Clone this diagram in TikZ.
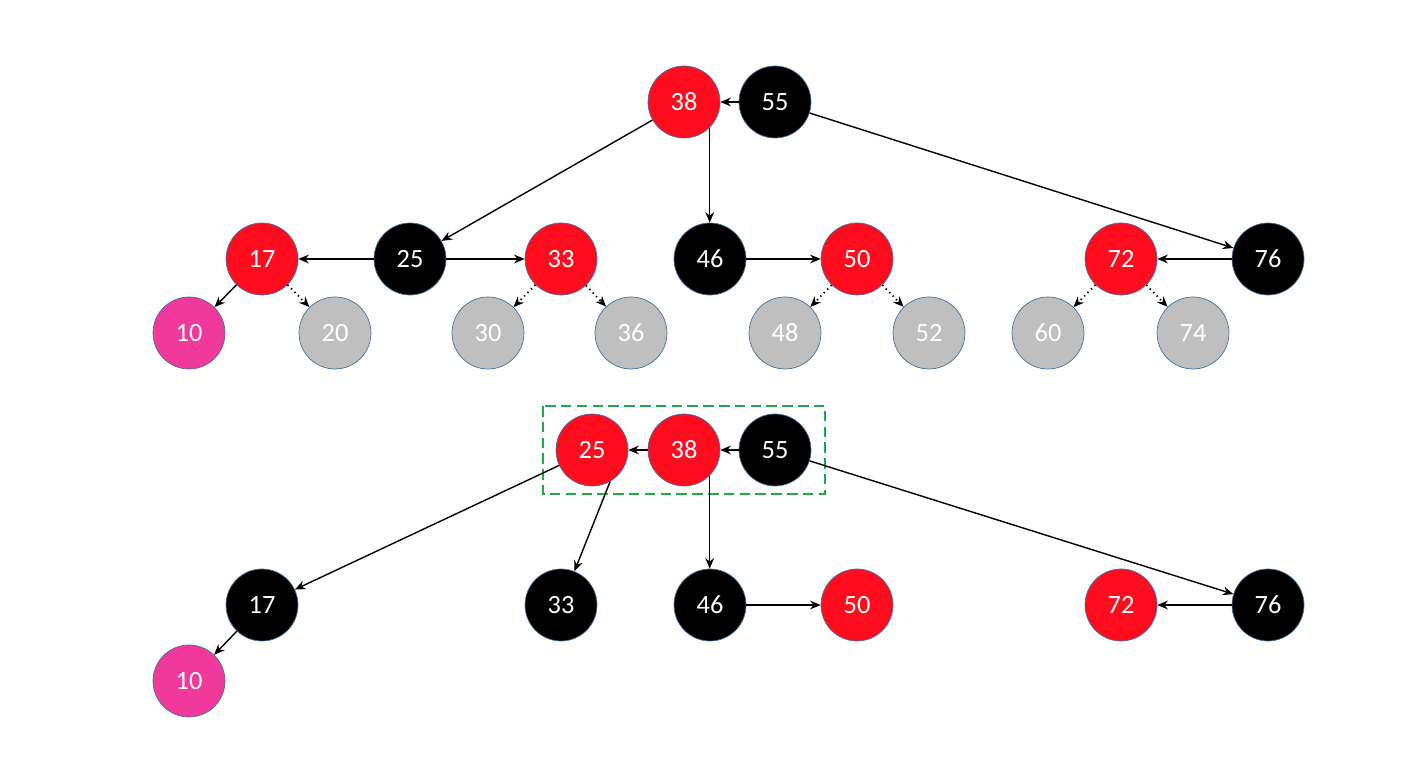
\documentclass[tikz,border=0pt]{standalone}
\usepackage{fontspec}
\setmainfont{Carlito}
\usetikzlibrary{arrows.meta}
\definecolor{rbred}{HTML}{FF0D1F}
\definecolor{rbpink}{HTML}{F0399A}
\definecolor{rbgray}{HTML}{BFBFBF}
\definecolor{rbedge}{HTML}{41719C}
\definecolor{rbgreen}{HTML}{22A845}
\tikzset{
 x=0.02cm,y=-0.02cm,
 nd/.style={circle,minimum size=1.44cm,inner sep=0pt,draw=rbedge,line width=0.4pt,text=white,font=\fontsize{15}{15}\selectfont},
 rd/.style={nd,fill=rbred},
 bk/.style={nd,fill=black},
 pk/.style={nd,fill=rbpink},
 gy/.style={nd,fill=rbgray},
 ar/.style={-{Stealth[length=6pt,width=5pt]},line width=0.8pt},
 dar/.style={ar,dotted,line width=1pt},
}
\begin{document}
\begin{tikzpicture}
\useasboundingbox (0,0) rectangle (1428,773);
% top tree
\node[rd] (a38) at (684,102) {38};
\node[bk] (a55) at (775,102) {55};
\node[rd] (a17) at (262,259) {17};
\node[bk] (a25) at (410,259) {25};
\node[rd] (a33) at (561,259) {33};
\node[bk] (a46) at (710,259) {46};
\node[rd] (a50) at (857,259) {50};
\node[rd] (a72) at (1121,259) {72};
\node[bk] (a76) at (1268,259) {76};
\node[pk] (a10) at (189,333) {10};
\node[gy] (a20) at (335,333) {20};
\node[gy] (a30) at (488,333) {30};
\node[gy] (a36) at (631,333) {36};
\node[gy] (a48) at (785,333) {48};
\node[gy] (a52) at (929,333) {52};
\node[gy] (a60) at (1048,333) {60};
\node[gy] (a74) at (1193,333) {74};
\draw[ar] (a55) -- (a38);
\draw[ar] (a38) -- (a25);
\draw[ar] (a38.-45) -- (a38.-45 |- a46.north);
\draw[ar] (a55) -- (a76);
\draw[ar] (a25) -- (a17);
\draw[ar] (a25) -- (a33);
\draw[ar] (a46) -- (a50);
\draw[ar] (a76) -- (a72);
\draw[ar] (a17) -- (a10);
\draw[dar] (a17) -- (a20);
\draw[dar] (a33) -- (a30);
\draw[dar] (a33) -- (a36);
\draw[dar] (a50) -- (a48);
\draw[dar] (a50) -- (a52);
\draw[dar] (a72) -- (a60);
\draw[dar] (a72) -- (a74);
% bottom tree
\draw[rbgreen,dashed,line width=1.5pt,dash pattern=on 6pt off 3pt] (543,406) rectangle (825,494);
\node[rd] (b25) at (592,450) {25};
\node[rd] (b38) at (684,450) {38};
\node[bk] (b55) at (775,450) {55};
\node[bk] (b17) at (262,605) {17};
\node[bk] (b33) at (561,605) {33};
\node[bk] (b46) at (710,605) {46};
\node[rd] (b50) at (857,605) {50};
\node[rd] (b72) at (1121,605) {72};
\node[bk] (b76) at (1268,605) {76};
\node[pk] (b10) at (189,681) {10};
\draw[ar] (b55) -- (b38);
\draw[ar] (b38) -- (b25);
\draw[ar] (b25) -- (b17);
\draw[ar] (b25.-60) -- (b33);
\draw[ar] (b38.-45) -- (b38.-45 |- b46.north);
\draw[ar] (b55) -- (b76);
\draw[ar] (b46) -- (b50);
\draw[ar] (b76) -- (b72);
\draw[ar] (b17) -- (b10);
\end{tikzpicture}
\end{document}
